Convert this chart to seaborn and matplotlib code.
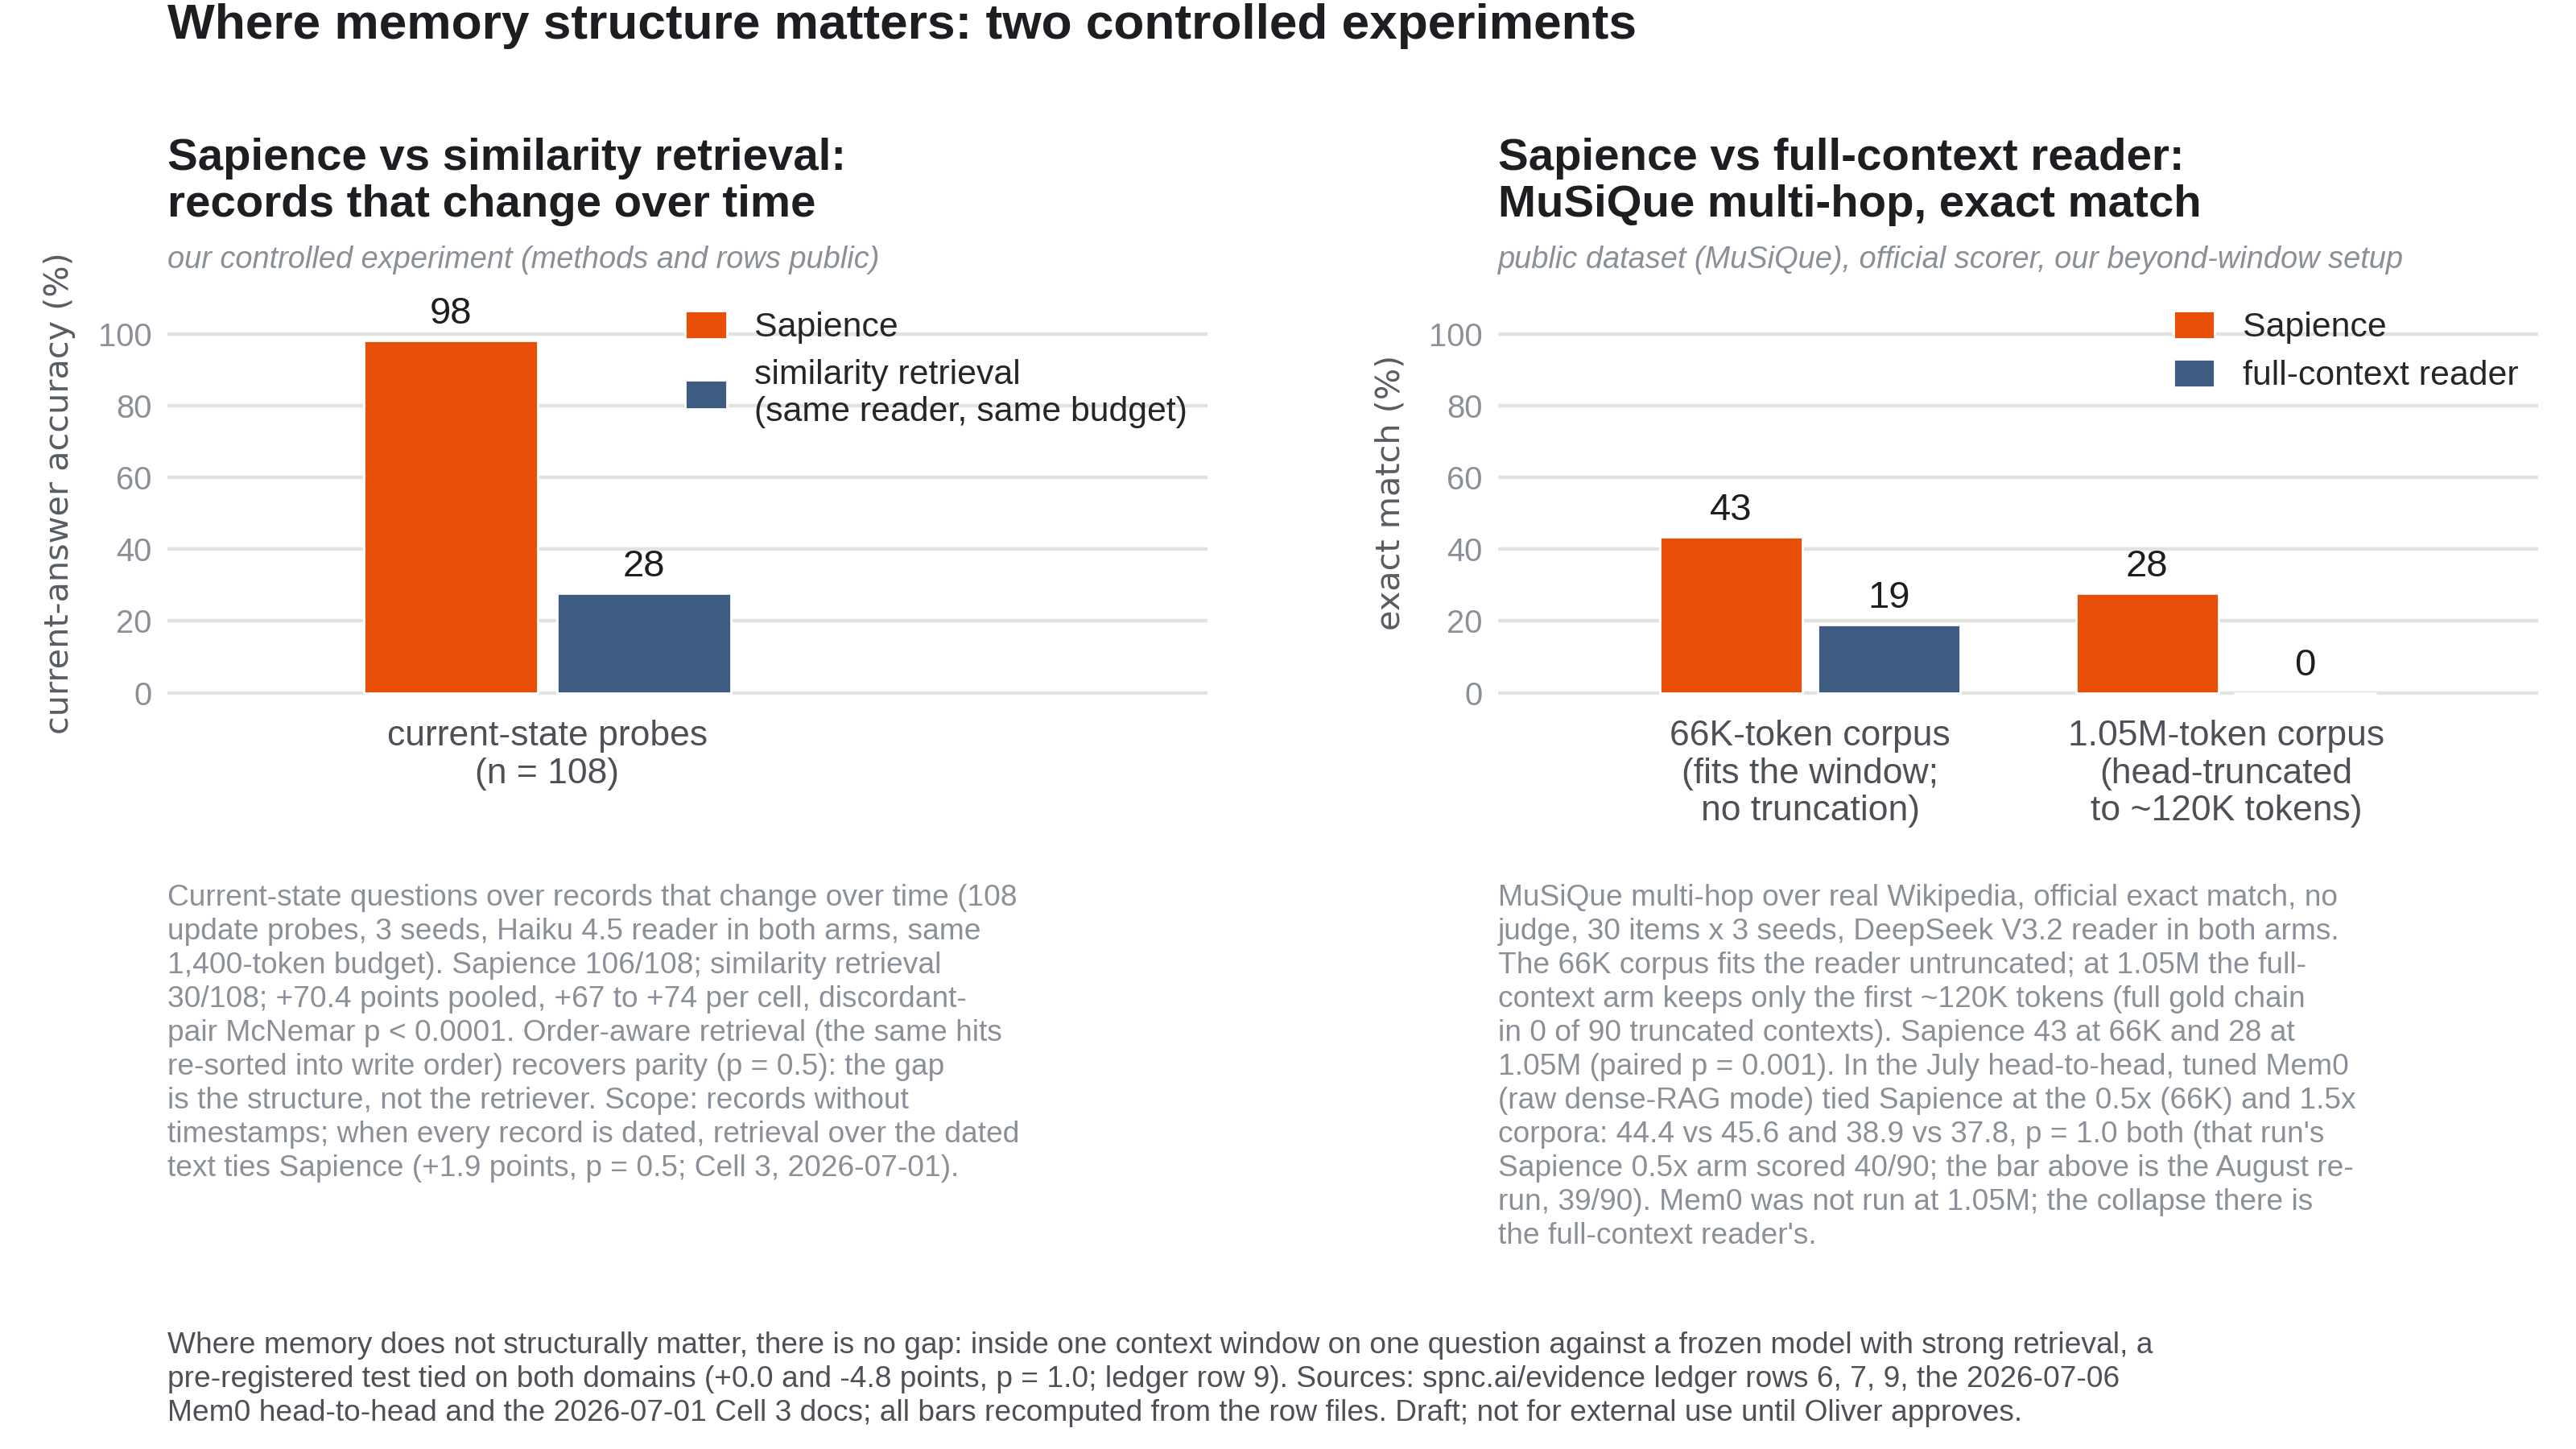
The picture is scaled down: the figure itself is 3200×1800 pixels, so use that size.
import matplotlib
matplotlib.use("Agg")
import matplotlib.pyplot as plt
import seaborn as sns
import pandas as pd

# Data: panel A (Sapience vs similarity retrieval)
a_categories = ["current-state probes\n(n = 108)"]
a_series = ["Sapience", "similarity retrieval\n(same reader, same budget)"]
a_values = [[98.1], [27.8]]

# Data: panel B (Sapience vs full-context reader, MuSiQue)
b_categories = ["66K-token corpus\n(fits the window;\nno truncation)",
                "1.05M-token corpus\n(head-truncated\nto ~120K tokens)"]
b_series = ["Sapience", "full-context reader"]
b_values = [[43.3, 27.8], [18.9, 0.0]]

yticks = [0, 20, 40, 60, 80, 100]

ORANGE = "#E8500A"
BLUE = "#3E5B82"
GRID = "#E2E2DE"
TICK_GRAY = "#8A8F98"
LABEL_GRAY = "#585C63"
CAT_GRAY = "#4D5057"
DARK = "#1E1E22"


def long_frame(categories, series, values):
    rows = []
    for s, vals in zip(series, values):
        for c, v in zip(categories, vals):
            rows.append({"category": c, "series": s, "value": v})
    return pd.DataFrame(rows)


df_a = long_frame(a_categories, a_series, a_values)
df_b = long_frame(b_categories, b_series, b_values)

sns.set_theme(style="white")
plt.rcParams["font.family"] = ["Liberation Sans", "DejaVu Sans"]

LEFT_A = 0.0651
LEFT_B = 0.5816
fig = plt.figure(figsize=(16, 9), dpi=200)
ax_a = fig.add_axes([LEFT_A, 0.5204, 0.4037, 0.279])
ax_b = fig.add_axes([LEFT_B, 0.5204, 0.4037, 0.279])


def draw_panel(ax, df, series, ylabel, width, xlim):
    palette = {series[0]: ORANGE, series[1]: BLUE}
    sns.barplot(data=df, x="category", y="value", hue="series",
                hue_order=series, palette=palette, width=width, gap=0.1,
                saturation=1, ax=ax, errorbar=None)
    for cont in ax.containers:
        ax.bar_label(cont, fmt="%.0f", padding=4, fontsize=17, color=DARK)
    ax.set_ylim(-0.6, 112)
    ax.set_xlim(*xlim)
    ax.set_yticks(yticks)
    ax.grid(axis="y", color=GRID, linewidth=1.6)
    ax.grid(axis="x", visible=False)
    ax.set_axisbelow(True)
    sns.despine(ax=ax, left=True, bottom=True)
    ax.tick_params(axis="y", length=0, pad=7, labelsize=14.4, labelcolor=TICK_GRAY)
    ax.tick_params(axis="x", length=0, pad=11, labelsize=16, labelcolor=CAT_GRAY)
    for lbl in ax.get_xticklabels():
        lbl.set_linespacing(1.18)
    ax.set_xlabel("")
    ax.set_ylabel(ylabel, fontsize=14.9, color=LABEL_GRAY, labelpad=10,
                  family="DejaVu Sans")
    ax.legend(loc="upper right", frameon=False, fontsize=15.4,
              handlelength=1.21, handleheight=0.89, handletextpad=0.8,
              labelspacing=0.44, borderaxespad=0.58, borderpad=0.0)


draw_panel(ax_a, df_a, a_series, "current-answer accuracy (%)", 0.8, (-0.786, 1.368))
draw_panel(ax_b, df_b, b_series, "exact match (%)", 0.76, (-0.75, 1.75))

# Titles
fig.text(LEFT_A, 0.982, "Where memory structure matters: two controlled experiments",
         fontsize=22.4, fontweight="bold", color=DARK, va="center")

fig.text(LEFT_A, 0.905, "Sapience vs similarity retrieval:\nrecords that change over time",
         fontsize=20.3, fontweight="bold", color=DARK, va="top", linespacing=1.15)
fig.text(LEFT_B, 0.905, "Sapience vs full-context reader:\nMuSiQue multi-hop, exact match",
         fontsize=20.3, fontweight="bold", color=DARK, va="top", linespacing=1.15)

fig.text(LEFT_A, 0.8205, "our controlled experiment (methods and rows public)",
         fontsize=13.7, style="italic", color=TICK_GRAY, va="center")
fig.text(LEFT_B, 0.8205, "public dataset (MuSiQue), official scorer, our beyond-window setup",
         fontsize=13.7, style="italic", color=TICK_GRAY, va="center")

note_a = ("Current-state questions over records that change over time (108\n"
          "update probes, 3 seeds, Haiku 4.5 reader in both arms, same\n"
          "1,400-token budget). Sapience 106/108; similarity retrieval\n"
          "30/108; +70.4 points pooled, +67 to +74 per cell, discordant-\n"
          "pair McNemar p < 0.0001. Order-aware retrieval (the same hits\n"
          "re-sorted into write order) recovers parity (p = 0.5): the gap\n"
          "is the structure, not the retriever. Scope: records without\n"
          "timestamps; when every record is dated, retrieval over the dated\n"
          "text ties Sapience (+1.9 points, p = 0.5; Cell 3, 2026-07-01).")

note_b = ("MuSiQue multi-hop over real Wikipedia, official exact match, no\n"
          "judge, 30 items x 3 seeds, DeepSeek V3.2 reader in both arms.\n"
          "The 66K corpus fits the reader untruncated; at 1.05M the full-\n"
          "context arm keeps only the first ~120K tokens (full gold chain\n"
          "in 0 of 90 truncated contexts). Sapience 43 at 66K and 28 at\n"
          "1.05M (paired p = 0.001). In the July head-to-head, tuned Mem0\n"
          "(raw dense-RAG mode) tied Sapience at the 0.5x (66K) and 1.5x\n"
          "corpora: 44.4 vs 45.6 and 38.9 vs 37.8, p = 1.0 both (that run's\n"
          "Sapience 0.5x arm scored 40/90; the bar above is the August re-\n"
          "run, 39/90). Mem0 was not run at 1.05M; the collapse there is\n"
          "the full-context reader's.")

footer = ("Where memory does not structurally matter, there is no gap: inside one context window on one question against a frozen model with strong retrieval, a\n"
          "pre-registered test tied on both domains (+0.0 and -4.8 points, p = 1.0; ledger row 9). Sources: spnc.ai/evidence ledger rows 6, 7, 9, the 2026-07-06\n"
          "Mem0 head-to-head and the 2026-07-01 Cell 3 docs; all bars recomputed from the row files. Draft; not for external use until Oliver approves.")

fig.text(LEFT_A, 0.390, note_a, fontsize=13.35, color=TICK_GRAY, va="top", linespacing=1.26)
fig.text(LEFT_B, 0.390, note_b, fontsize=13.35, color=TICK_GRAY, va="top", linespacing=1.26)
fig.text(LEFT_A, 0.081, footer, fontsize=13.35, color=CAT_GRAY, va="top", linespacing=1.26)

fig.savefig("out.png", dpi=200, facecolor="white")
